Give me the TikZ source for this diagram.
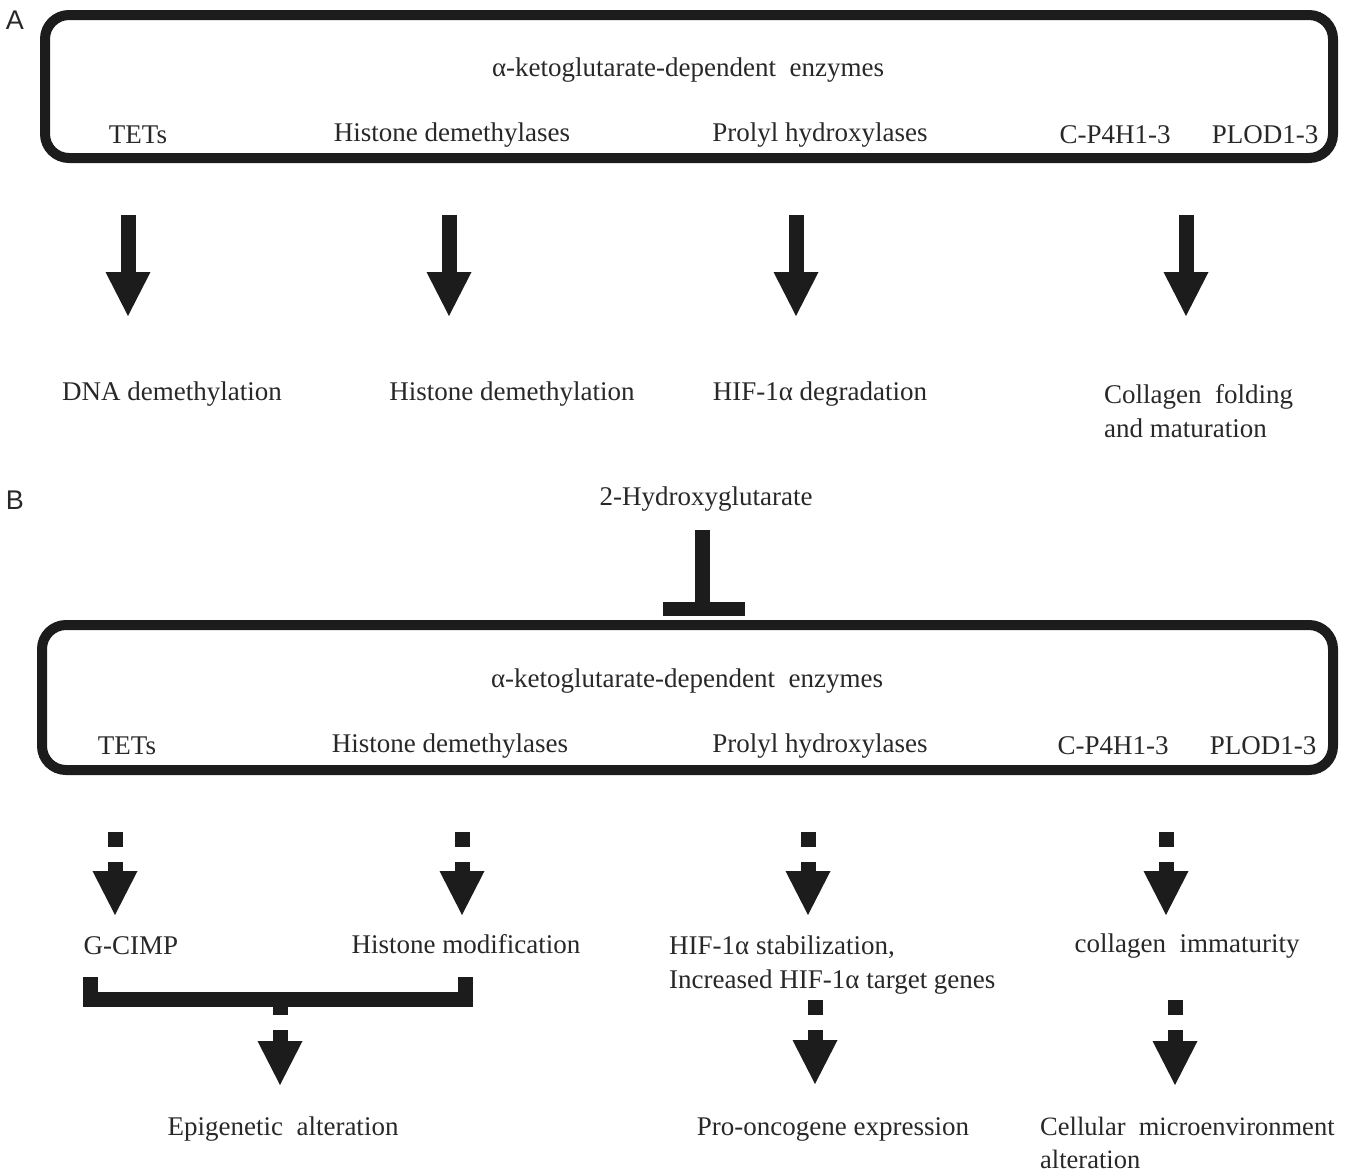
\documentclass[tikz,border=0pt]{standalone}
\usepackage{fontspec}
\setmainfont{Liberation Serif}
\setsansfont{Liberation Sans}
\usetikzlibrary{arrows.meta}
\definecolor{ink}{RGB}{28,28,28}
\definecolor{tink}{RGB}{40,40,40}
\begin{document}
\begin{tikzpicture}[x=1pt,y=-1pt,
  txt/.style={font=\fontsize{27}{34}\selectfont, inner sep=0pt, text=tink},
  lab/.style={font=\sffamily\fontsize{27}{30}\selectfont, inner sep=0pt, text=tink},
  encl/.style={draw=ink, line width=10pt, rounded corners=24pt, inner sep=0pt},
  bigarrow/.style={draw=ink, line width=15pt, -{Triangle[length=44pt,width=45pt,line width=0pt]}},
  dasharrow/.style={bigarrow, dash pattern=on 15pt off 15pt on 60pt},
  blockline/.style={draw=ink, line width=15pt, line join=miter},
]
\useasboundingbox (0,0) rectangle (1351,1173);

% ---------- Panel A ----------
\node[lab] (labA) at (15,20) {A};
\node[encl, minimum width=1288pt, minimum height=143pt] (boxA) at (689,86.5) {};
\node[txt] (titleA) at (688,70) {α-ketoglutarate-dependent\ \ enzymes};
\node[txt] (tetA) at (138,135) {TETs};
\node[txt] (hdA) at (452,135) {Histone demethylases};
\node[txt] (phA) at (820,135) {Prolyl hydroxylases};
\node[txt] (cpA) at (1115,135) {C-P4H1-3};
\node[txt] (plA) at (1265,135) {PLOD1-3};

\coordinate (a1s) at (128,215); \coordinate (a1e) at (128,316);
\coordinate (a2s) at (449,215); \coordinate (a2e) at (449,316);
\coordinate (a3s) at (796,215); \coordinate (a3e) at (796,316);
\coordinate (a4s) at (1186,215); \coordinate (a4e) at (1186,316);
\draw[bigarrow] (a1s) -- (a1e);
\draw[bigarrow] (a2s) -- (a2e);
\draw[bigarrow] (a3s) -- (a3e);
\draw[bigarrow] (a4s) -- (a4e);

\node[txt] (dnaA) at (172,394) {DNA demethylation};
\node[txt] (hdmA) at (512,394) {Histone demethylation};
\node[txt] (hifA) at (820,394) {HIF-1α degradation};
\node[txt, anchor=west, align=left] (colA) at (1104,411) {Collagen\ \ folding\\and maturation};

% ---------- Panel B ----------
\node[lab] (labB) at (15,500) {B};
\node[txt] (hg) at (706,499) {2-Hydroxyglutarate};
\coordinate (inhS) at (702.5,530);
\coordinate (inhE) at (702.5,603);
\coordinate (barL) at (663,609);
\coordinate (barR) at (745,609);
\draw[blockline] (inhS) -- (inhE);
\draw[draw=ink, line width=14pt] (barL) -- (barR);

\node[encl, minimum width=1291pt, minimum height=145pt] (boxB) at (687.5,697.5) {};
\node[txt] (titleB) at (687,681) {α-ketoglutarate-dependent\ \ enzymes};
\node[txt] (tetB) at (127,746) {TETs};
\node[txt] (hdB) at (450,746) {Histone demethylases};
\node[txt] (phB) at (820,746) {Prolyl hydroxylases};
\node[txt] (cpB) at (1113,746) {C-P4H1-3};
\node[txt] (plB) at (1263,746) {PLOD1-3};

\coordinate (b1s) at (115,832); \coordinate (b1e) at (115,915);
\coordinate (b2s) at (462,832); \coordinate (b2e) at (462,915);
\coordinate (b3s) at (808,832); \coordinate (b3e) at (808,915);
\coordinate (b4s) at (1166,832); \coordinate (b4e) at (1166,915);
\draw[dasharrow] (b1s) -- (b1e);
\draw[dasharrow] (b2s) -- (b2e);
\draw[dasharrow] (b3s) -- (b3e);
\draw[dasharrow] (b4s) -- (b4e);

\node[txt] (gcimp) at (131,946) {G-CIMP};
\node[txt] (hmod) at (466,944) {Histone modification};
\node[txt, anchor=west, align=left] (hifB) at (669,965.5) {HIF-1α stabilization,\\Increased HIF-1α target genes};
\node[txt] (colB) at (1187,946) {collagen\ \ immaturity};

% bracket
\coordinate (brL) at (90.5,977);
\coordinate (brR) at (465.5,977);
\draw[blockline] (brL) |- (278,999.5) -| (brR);

\coordinate (c1s) at (280,1000); \coordinate (c1e) at (280,1085);
\coordinate (c2s) at (815,1000); \coordinate (c2e) at (815,1084);
\coordinate (c3s) at (1175,1000); \coordinate (c3e) at (1175,1085);
\draw[dasharrow] (c1s) -- (c1e);
\draw[dasharrow] (c2s) -- (c2e);
\draw[dasharrow] (c3s) -- (c3e);

\node[txt] (epi) at (283,1129) {Epigenetic\ \ alteration};
\node[txt] (pro) at (833,1129) {Pro-oncogene expression};
\node[txt, anchor=west, align=left, font=\fontsize{26.5}{33}\selectfont] (cel) at (1040,1143) {Cellular\ \ microenvironment\\alteration};
\end{tikzpicture}
\end{document}
